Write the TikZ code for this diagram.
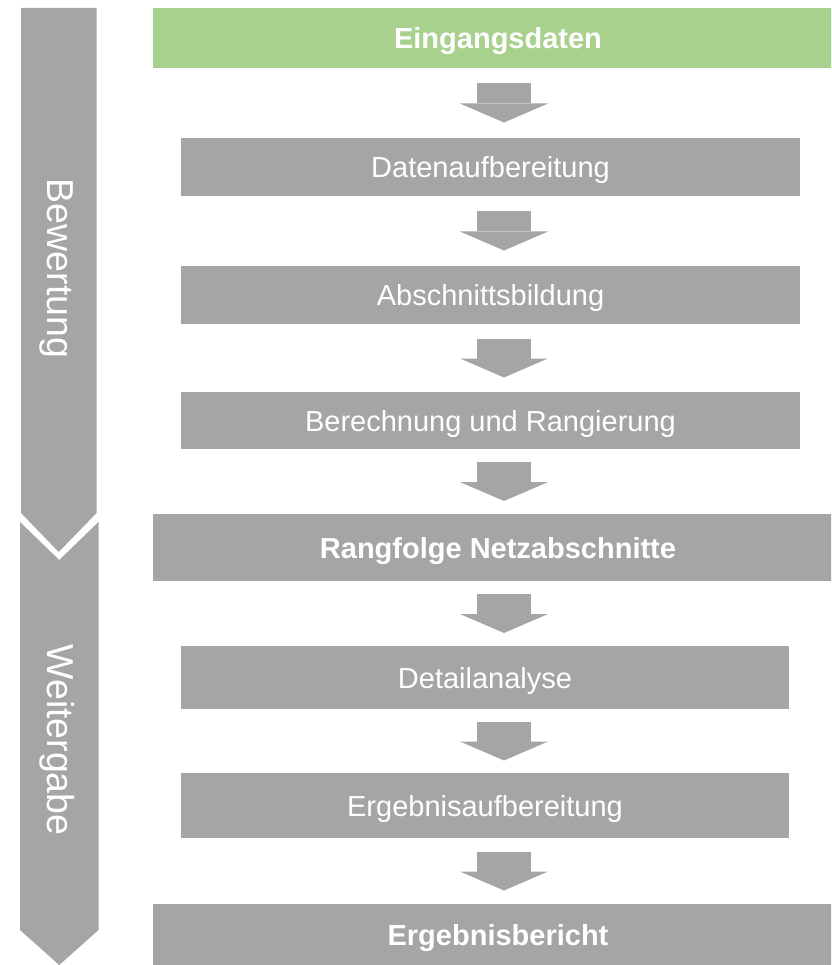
\documentclass[tikz,border=0pt]{standalone}
\usepackage{fontspec}
\setmainfont{Liberation Sans}
\usepackage{tikz}
\usetikzlibrary{arrows.meta,calc}
\definecolor{stufeGray}{HTML}{A5A5A5}
\definecolor{eingangGreen}{HTML}{A9D18E}

\begin{document}
\begin{tikzpicture}[x=1pt, y=-1pt,
      stufe/.style={fill=stufeGray, text=white, inner sep=0pt, text height=21pt, text depth=0pt, font=\fontsize{29}{34}\selectfont},
      haupt/.style={stufe, font=\fontsize{29}{34}\selectfont\bfseries},
      seite/.style={text=white, inner sep=0pt, rotate=-90, font=\fontsize{37.5}{42}\selectfont},
      pfeil/.style={draw=stufeGray, line width=54pt, -{Triangle[width=88pt, length=19pt, line width=0pt]}}]
    \clip (0,0) rectangle (831,965);
    % ---- side band
    \fill[stufeGray] (21,8) -- (96.5,8) -- (96.5,513) -- (58.75,552) -- (21,513) -- cycle;
    \fill[stufeGray] (20,522) -- (59.25,560) -- (98.5,522) -- (98.5,930) -- (59.25,965) -- (20,930) -- cycle;
    \node[seite] (bew) at (57,268.5) {Bewertung};
    \node[seite] (weit) at (57,740) {Weitergabe};
    % ---- steps
    \node[haupt, fill=eingangGreen, minimum width=690pt, minimum height=60pt] (eing) at (498,38) {Eingangsdaten};
    \node[stufe, minimum width=619pt, minimum height=58pt] (aufb) at (490.5,167) {Datenaufbereitung};
    \node[stufe, minimum width=619pt, minimum height=58pt] (absch) at (490.5,295) {Abschnittsbildung};
    \node[stufe, minimum width=619pt, minimum height=57pt] (rech) at (490.5,420.5) {Berechnung und Rangierung};
    \node[haupt, minimum width=690pt, minimum height=67pt] (rang) at (498,547.5) {Rangfolge Netzabschnitte};
    \node[stufe, minimum width=608pt, minimum height=63pt] (detail) at (485,677.5) {Detailanalyse};
    \node[stufe, minimum width=608pt, minimum height=65pt] (ergaufb) at (485,805.5) {Ergebnisaufbereitung};
    \node[haupt, minimum width=690pt, minimum height=61pt] (bericht) at (498,934.5) {Ergebnisbericht};
    % ---- arrows between steps
    \foreach \a/\b in {eing/aufb, aufb/absch, absch/rech, rech/rang, rang/detail, detail/ergaufb, ergaufb/bericht} {
      \coordinate (mitte) at ($(\a.south)!0.5!(\b.north)$);
      \draw[pfeil] (504,0 |- mitte) ++(0,-19.5) -- ++(0,39);
    }
  \end{tikzpicture}
\end{document}
